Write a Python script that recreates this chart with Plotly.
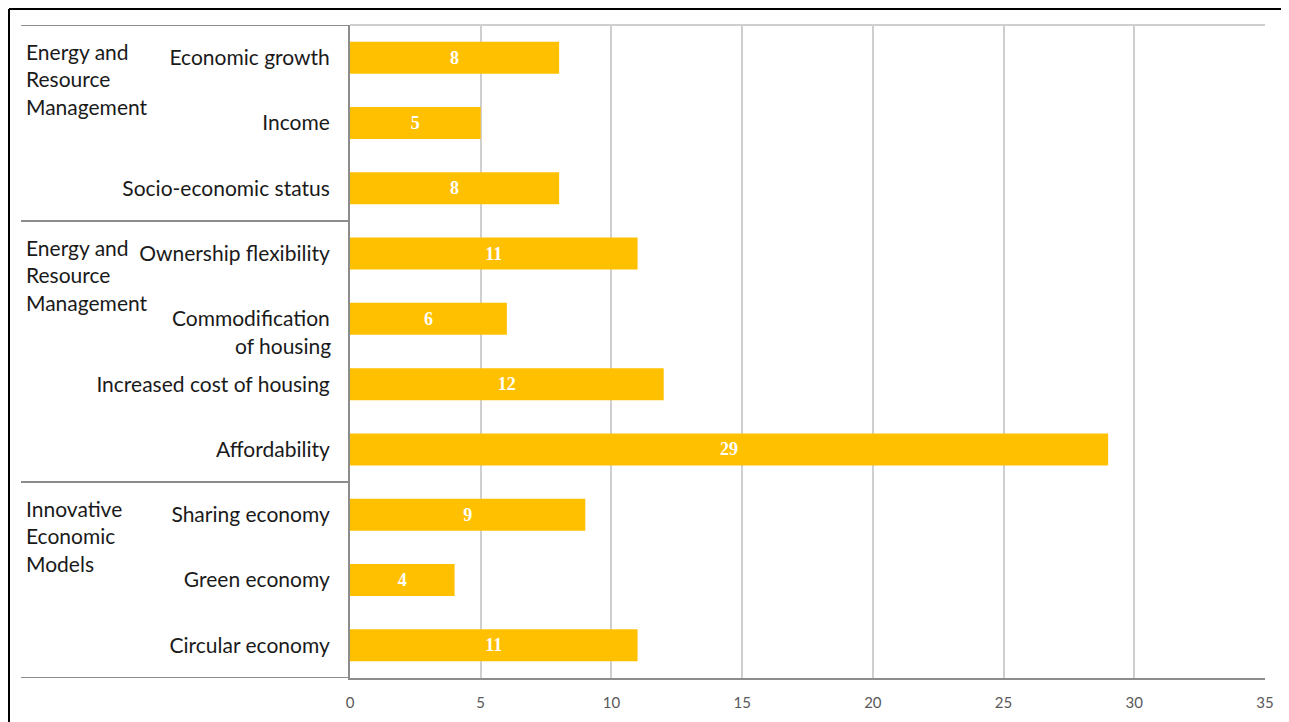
import plotly.graph_objects as go

categories = ["Economic growth", "Income", "Socio-economic status",
              "Ownership flexibility", "Commodification<br>of housing",
              "Increased cost of housing", "Affordability",
              "Sharing economy", "Green economy", "Circular economy"]
values = [8, 5, 8, 11, 6, 12, 29, 9, 4, 11]
groups = ["Energy and<br>Resource<br>Management",
          "Energy and<br>Resource<br>Management",
          "Innovative<br>Economic<br>Models"]
group_start = [0, 3, 7]
group_bounds = [-0.5, 2.5, 6.5, 9.5]
x_ticks = [0, 5, 10, 15, 20, 25, 30, 35]

# page body has an 8px margin; compensate so the plot lands where it should
OFF = 8
W, H = 1289 - OFF, 722 - OFF
L, R, T, B = 350 - OFF, 24, 25 - OFF, 44
pw = W - L - R
ph = H - T - B

def px_x(px):
    return (px - OFF - L) / pw

def px_y(py):
    return (H - B - (py - OFF)) / ph

idx = list(range(len(categories)))
first_lines = [c.split("<br>")[0] for c in categories]

fig = go.Figure(go.Bar(
    x=values, y=idx, orientation="h",
    marker=dict(color="#FFC000", line=dict(width=0)),
    text=[str(v) for v in values], textposition="inside",
    insidetextanchor="middle",
    textfont=dict(family="Liberation Serif", size=18, color="white", weight="bold"),
    width=0.49,
))

shapes = []
for b in group_bounds:
    shapes.append(dict(type="line", xref="paper", yref="y", x0=px_x(21), x1=0,
                       y0=b, y1=b, line=dict(color="#8C8C8C", width=2)))
shapes.append(dict(type="line", xref="paper", yref="paper", x0=0, x1=1, y0=1, y1=1,
                   line=dict(color="#CFCFCF", width=2)))
# outer black frame (left and top)
shapes.append(dict(type="line", xref="paper", yref="paper", x0=px_x(9), x1=px_x(9),
                   y0=px_y(9), y1=px_y(740), line=dict(color="black", width=2)))
shapes.append(dict(type="line", xref="paper", yref="paper", x0=px_x(9), x1=px_x(1300),
                   y0=px_y(9), y1=px_y(9), line=dict(color="black", width=2)))

label_font = dict(family="Lato", size=21, color="#1a1a1a")
annotations = []
for g, s in zip(groups, group_start):
    annotations.append(dict(text=g, xref="paper", yref="y", x=px_x(24), y=s - 0.5,
                            xanchor="left", yanchor="top", yshift=-12, showarrow=False,
                            align="left", font=label_font))
# continuation lines of wrapped category labels
for i, c in enumerate(categories):
    parts = c.split("<br>")
    if len(parts) > 1:
        annotations.append(dict(text="<br>".join(parts[1:]), xref="paper", yref="y",
                                x=px_x(333), y=i, xanchor="right", yanchor="middle",
                                yshift=-27, showarrow=False, align="right", font=label_font))

fig.update_layout(
    width=W, height=H,
    margin=dict(l=L, r=R, t=T, b=B),
    paper_bgcolor="white", plot_bgcolor="white",
    showlegend=False,
    shapes=shapes, annotations=annotations,
    xaxis=dict(range=[0, 35], tickvals=x_ticks, showgrid=True, gridcolor="#CFCFCF",
               gridwidth=2, zeroline=False, showline=True, linecolor="#8C8C8C", linewidth=2,
               tickfont=dict(family="Lato", size=15, color="#595959"), ticks="",
               ticklabelstandoff=10),
    yaxis=dict(range=[9.5, -0.5], tickvals=idx, ticktext=first_lines,
               showline=True, linecolor="#8C8C8C", linewidth=2,
               showgrid=False, ticks="", ticklabelstandoff=14, zeroline=False,
               tickfont=label_font),
)

fig.write_html("out.html")
